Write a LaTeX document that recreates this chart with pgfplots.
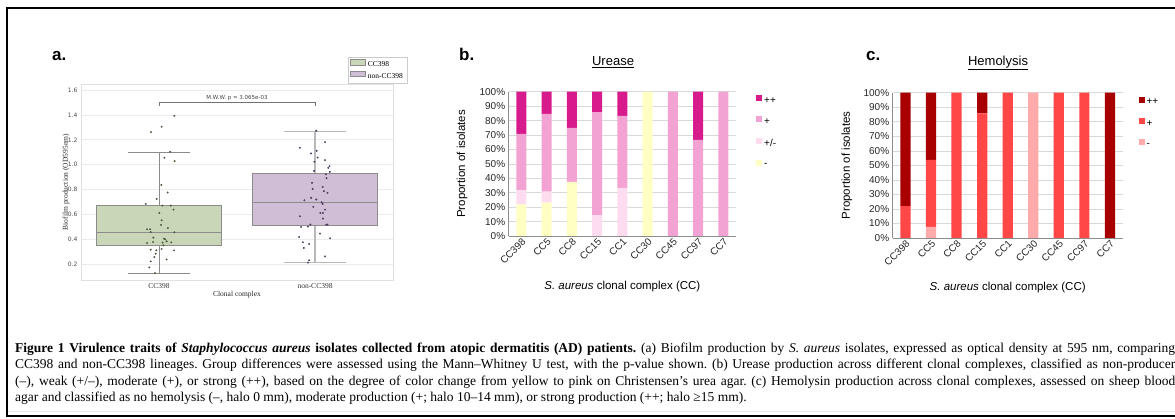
\documentclass[border=0pt]{standalone}
\usepackage{fontspec}
\setmainfont{Liberation Serif}
\newfontfamily\arial{Liberation Sans}
\newfontfamily\dvs{DejaVu Sans}
\usepackage{pgfplots}
\pgfplotsset{compat=1.18}
\usepackage{pgfplotstable}
\usepgfplotslibrary{statistics}

\definecolor{ccgreen}{HTML}{C9D6B8}
\definecolor{ccpurple}{HTML}{D0BDD6}
\definecolor{ptgreen}{HTML}{4A5A3C}
\definecolor{ptpurple}{HTML}{4E3D5E}
\definecolor{urPP}{HTML}{D81B8C}
\definecolor{urP}{HTML}{F2A3D3}
\definecolor{urPM}{HTML}{FCDCEE}
\definecolor{urN}{HTML}{FFFFC4}
\definecolor{hePP}{HTML}{A80000}
\definecolor{heP}{HTML}{FF4747}
\definecolor{heN}{HTML}{FFABAB}

% Urease classes per clonal complex (% of isolates)
\pgfplotstableread{
idx neg   pm    plus  pp
0   21.95 9.76  39.02 29.27
1   23.08 7.69  53.85 15.38
2   37.50 0     37.50 25.00
3   0     14.29 71.43 14.29
4   0     33.33 50.00 16.67
5   100   0     0     0
6   0     0     100   0
7   0     0     66.67 33.33
8   0     0     100   0
}\urease

% Hemolysis classes per clonal complex (% of isolates)
\pgfplotstableread{
idx neg   plus  pp
0   0     21.95 78.05
1   7.69  46.15 46.16
2   0     100   0
3   0     85.71 14.29
4   0     100   0
5   100   0     0
6   0     100   0
7   0     100   0
8   0     0     100
}\hemo

\pgfplotsset{
  sqlegend/.style={legend image code/.code={\fill[##1] (0pt,0.3pt) rectangle (6pt,6.3pt);}},
  patchlegend/.style={legend image code/.code={\draw[##1] (0pt,-0.3pt) rectangle (15pt,5.3pt);}},
  propaxis/.style={
    scale only axis, ybar stacked, bar width=0.4,
    ymin=0, ymax=100, xmin=-0.5, xmax=8.5,
    xtick={0,...,8},
    xticklabels={CC398,CC5,CC8,CC15,CC1,CC30,CC45,CC97,CC7},
    ytick={0,10,...,100},
    yticklabels={0\%,10\%,20\%,30\%,40\%,50\%,60\%,70\%,80\%,90\%,100\%},
    ymajorgrids, grid style={black!15, line width=0.6pt},
    axis lines*=left, axis line style={black!45, line width=0.8pt},
    major tick length=0pt,
    tick label style={font=\arial\fontsize{10}{12}\selectfont, text=black!85},
    xticklabel style={rotate=45, anchor=north east, inner sep=1pt},
    label style={font=\arial\fontsize{11.5}{13}\selectfont},
    ylabel={Proportion of isolates},
    xlabel={\textit{S. aureus} clonal complex (CC)},
    title style={font=\arial\fontsize{13}{15}\selectfont, anchor=center},
    legend style={draw=none, fill=none, anchor=north west,
      font=\arial\fontsize{10}{12}\selectfont, row sep=9.5pt, inner sep=0pt},
    legend cell align=left, reverse legend,
  }
}

\newcommand{\capfont}{\fontsize{13.5}{16}\selectfont\frenchspacing}

\begin{document}
\begin{tikzpicture}
\useasboundingbox (0pt,0pt) rectangle (1175pt,-419pt);

% outer frame
\draw[line width=2pt] (1175pt,-8pt) -- (7pt,-8pt) -- (7pt,-416pt) -- (1175pt,-416pt);
\draw[black!8, line width=0.6pt] (8pt,-411.5pt) -- (1175pt,-411.5pt);

% panel labels
\foreach \lab/\xx in {a./52, b./459, c./866}
  \node[anchor=base west, inner sep=0pt, font=\arial\bfseries\fontsize{17}{20}\selectfont] at (\xx pt,-61pt) {\lab};

% ---------- (a) biofilm boxplot ----------
\begin{axis}[
  at={(81pt,-280pt)}, anchor=south west, scale only axis,
  width=312pt, height=196pt,
  xmin=-0.5, xmax=1.5, ymin=0.075, ymax=1.648,
  xtick={0,1}, xticklabels={CC398,non-CC398},
  ytick={0.2,0.4,0.6,0.8,1.0,1.2,1.4,1.6},
  yticklabels={0.2,0.4,0.6,0.8,1.0,1.2,1.4,1.6},
  ymajorgrids, grid style={black!8, line width=0.7pt},
  axis line style={black!12},
  major tick length=0pt,
  xticklabel style={font=\fontsize{7.5}{9}\selectfont, text=black!80},
  yticklabel style={font=\dvs\fontsize{6}{7}\selectfont, text=black!70},
  xlabel={Clonal complex}, ylabel={Biofilm production (OD595nm)},
  label style={font=\fontsize{7.5}{9}\selectfont, text=black!85},
  xlabel style={at={(axis description cs:0.5,-0.076)}, anchor=center},
  ylabel style={at={(axis description cs:-0.048,0.5)}, anchor=center},
  legend style={at={(axis description cs:1.045,1.138)}, anchor=north east,
    draw=black!20, font=\fontsize{7.5}{9}\selectfont, row sep=1pt,
    inner sep=2pt},
  legend cell align=left,
  boxplot/draw direction=y,
]
\addlegendimage{patchlegend, fill=ccgreen, draw=black!45}
\addlegendentry{CC398}
\addlegendimage{patchlegend, fill=ccpurple, draw=black!45}
\addlegendentry{non-CC398}

\addplot[forget plot, fill=ccgreen, draw=black!45, line width=0.7pt,
  boxplot prepared={draw direction=y, draw position=0, median=0.455,
    lower quartile=0.35, upper quartile=0.675, lower whisker=0.13,
    upper whisker=1.10, box extend=0.8, whisker extend=0.4}] coordinates {};
\addplot[forget plot, fill=ccpurple, draw=black!45, line width=0.7pt,
  boxplot/every whisker/.style={draw=black!28, line width=1.1pt},
  boxplot prepared={draw direction=y, draw position=1, median=0.695,
    lower quartile=0.515, upper quartile=0.93, lower whisker=0.215,
    upper whisker=1.27, box extend=0.8, whisker extend=0.4}] coordinates {};

% jittered isolates
\addplot[forget plot, only marks, mark=*, mark size=0.75pt, color=ptgreen] coordinates {
(0.098,1.393)(0.017,1.305)(-0.051,1.262)(0.072,1.104)(0.034,1.056)(0.100,1.029)
(0.015,0.838)(0.055,0.777)(-0.015,0.726)(-0.085,0.686)(0.021,0.672)(0.076,0.672)
(0.093,0.640)(0.002,0.613)(0.017,0.554)(0.013,0.517)(0.057,0.492)(-0.076,0.482)
(-0.057,0.482)(-0.053,0.460)(0.098,0.458)(-0.036,0.415)(0.032,0.407)(0.040,0.401)
(-0.038,0.380)(0.023,0.375)(0.049,0.385)(0.079,0.377)(-0.076,0.372)(0.028,0.353)
(0.017,0.324)(-0.053,0.318)(-0.017,0.313)(0.096,0.313)(-0.021,0.286)(-0.030,0.259)
(0.049,0.240)(-0.053,0.224)(-0.062,0.176)(-0.025,0.130)};
\addplot[forget plot, only marks, mark=*, mark size=0.75pt, color=ptpurple] coordinates {
(1.008,1.273)(1.064,1.182)(0.903,1.136)(1.011,1.112)(0.975,1.091)(1.017,1.058)
(0.996,1.024)(1.064,1.037)(1.093,0.989)(1.085,0.975)(0.994,0.951)(1.095,0.943)
(1.070,0.924)(1.074,0.892)(0.981,0.855)(1.049,0.822)(0.985,0.806)(1.057,0.788)
(1.080,0.774)(0.975,0.734)(1.008,0.721)(0.932,0.715)(1.042,0.699)(1.049,0.686)
(0.989,0.662)(1.064,0.640)(1.034,0.613)(1.051,0.613)(0.903,0.587)(1.051,0.568)
(0.970,0.520)(0.955,0.503)(0.911,0.501)(1.072,0.520)(1.080,0.520)(1.032,0.447)
(0.898,0.420)(1.097,0.410)(0.922,0.378)(0.962,0.364)(0.928,0.332)(1.064,0.265)
(0.962,0.233)(0.955,0.214)};

% Mann-Whitney bracket
\draw[black!55, line width=0.6pt] (axis cs:0,1.47) |- (axis cs:1,1.50) -- (axis cs:1,1.47);
\node[anchor=south, inner sep=1.5pt, font=\dvs\fontsize{5.5}{6}\selectfont, text=black!75]
  at (axis cs:0.5,1.50) {M.W.W. p = 3.065e-03};
\end{axis}

% ---------- (b) urease ----------
\begin{axis}[propaxis,
  at={(508.7pt,-236pt)}, anchor=south west,
  width=227.3pt, height=144.3pt,
  title={\underline{Urease}},
  title style={at={(axis description cs:0.459,1.164)}},
  ylabel style={at={(axis description cs:-0.205,0.5)}, anchor=center},
  xlabel style={at={(axis description cs:0.5,-0.353)}, anchor=center},
  legend style={at={(axis description cs:1.088,0.98)}},
]
\addplot[fill=urN, draw=none, sqlegend] table[x=idx, y=neg] {\urease};
\addlegendentry{-}
\addplot[fill=urPM, draw=none, sqlegend] table[x=idx, y=pm] {\urease};
\addlegendentry{+/-}
\addplot[fill=urP, draw=none, sqlegend] table[x=idx, y=plus] {\urease};
\addlegendentry{+}
\addplot[fill=urPP, draw=none, sqlegend] table[x=idx, y=pp] {\urease};
\addlegendentry{++}
\end{axis}

% ---------- (c) hemolysis ----------
\begin{axis}[propaxis,
  at={(892.7pt,-238pt)}, anchor=south west,
  width=230pt, height=145.3pt,
  title={\underline{Hemolysis}},
  title style={at={(axis description cs:0.458,1.163)}},
  ylabel style={at={(axis description cs:-0.199,0.5)}, anchor=center},
  xlabel style={at={(axis description cs:0.5,-0.344)}, anchor=center},
  legend style={at={(axis description cs:1.068,0.975)}},
]
\addplot[fill=heN, draw=none, sqlegend] table[x=idx, y=neg] {\hemo};
\addlegendentry{-}
\addplot[fill=heP, draw=none, sqlegend] table[x=idx, y=plus] {\hemo};
\addlegendentry{+}
\addplot[fill=hePP, draw=none, sqlegend] table[x=idx, y=pp] {\hemo};
\addlegendentry{++}
\end{axis}

% ---------- caption ----------
\node[anchor=base west, inner sep=0pt] at (15pt,-353pt) {\capfont\makebox[1160pt][s]{\textbf{Figure 1 Virulence traits of \textit{Staphylococcus aureus} isolates collected from atopic dermatitis (AD) patients.} (a) Biofilm production by \textit{S. aureus} isolates, expressed as optical density at 595 nm, comparing}};
\node[anchor=base west, inner sep=0pt] at (15pt,-369pt) {\capfont\makebox[1160pt][s]{CC398 and non-CC398 lineages. Group differences were assessed using the Mann–Whitney U test, with the p-value shown. (b) Urease production across different clonal complexes, classified as non-producer}};
\node[anchor=base west, inner sep=0pt] at (15pt,-385pt) {\capfont\makebox[1160pt][s]{(–), weak (+/–), moderate (+), or strong (++), based on the degree of color change from yellow to pink on Christensen’s urea agar. (c) Hemolysin production across clonal complexes, assessed on sheep blood}};
\node[anchor=base west, inner sep=0pt] at (15pt,-401pt) {\capfont agar and classified as no hemolysis (–, halo 0 mm), moderate production (+; halo 10–14 mm), or strong production (++; halo ≥15 mm).};
\end{tikzpicture}
\end{document}
